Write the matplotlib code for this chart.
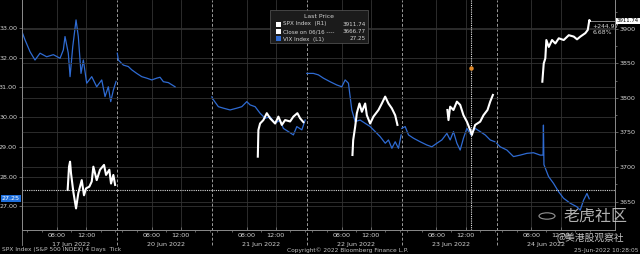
import matplotlib
matplotlib.use('Agg')
import matplotlib.pyplot as plt
import matplotlib.transforms as mtransforms
from matplotlib.patches import Rectangle, Circle
import numpy as np

# trading days shown on the chart, each one is a 03:15-16:15 session
days = ['17 Jun 2022', '20 Jun 2022', '21 Jun 2022', '22 Jun 2022', '23 Jun 2022', '24 Jun 2022']
session_start = 3.25
session_len = 13.0

# VIX Index, clock hours and values per day (left axis)
vix_hours = [
    [3.25, 3.66, 4.35, 5.03, 5.72, 6.63, 7.54, 8.46, 8.91, 9.14, 9.59, 9.83, 10.2, 10.65,
     10.96, 11.33, 11.65, 12.11, 12.8, 13.48, 14.17, 14.62, 15.07, 15.4, 15.76, 16.13],
    [3.3, 3.44, 4.13, 4.81, 5.28, 5.96, 6.65, 7.33, 8.02, 8.7, 9.15, 9.61, 10.29, 11.21],
    [3.25, 3.46, 4.14, 4.83, 5.74, 6.66, 7.35, 8.03, 8.48, 9.17, 9.85, 10.54, 11.22, 11.91,
     12.59, 13.04, 13.73, 14.41, 14.88, 15.57, 16.02],
    [3.25, 4.15, 4.84, 5.52, 6.44, 7.36, 8.04, 8.5, 8.95, 9.18, 9.41, 9.87, 10.55, 11.24,
     11.93, 12.62, 13.3, 13.99, 14.43, 14.9, 15.35, 15.8, 16.17],
    [3.25, 3.72, 4.17, 4.85, 5.77, 6.69, 7.37, 8.06, 8.74, 9.43, 9.88, 10.33, 10.8, 11.25,
     11.7, 12.17, 12.72, 13.3, 13.99, 14.67, 15.36, 16.0],
    [3.25, 3.73, 4.65, 5.55, 6.47, 7.39, 8.29, 9.21, 9.6, 9.65, 9.72, 10.35, 11.03, 11.72,
     12.4, 13.32, 14.24, 14.69, 15.14, 15.61, 15.92],
]
vix_values = [
    [32.87, 32.6, 32.2, 31.92, 32.15, 32.03, 32.1, 31.98, 32.26, 32.71, 32.15, 31.36, 32.37,
     33.27, 32.71, 31.47, 31.92, 31.14, 31.36, 31.02, 31.25, 30.69, 31.02, 30.52, 30.91, 31.2],
    [32.15, 31.92, 31.75, 31.7, 31.59, 31.47, 31.36, 31.31, 31.25, 31.31, 31.34, 31.19, 31.16, 31.02],
    [30.68, 30.58, 30.35, 30.3, 30.24, 30.3, 30.35, 30.52, 30.41, 30.35, 30.13, 29.96, 30.01,
     29.79, 29.9, 29.62, 29.51, 29.4, 29.68, 29.57, 29.9],
    [31.47, 31.47, 31.42, 31.31, 31.19, 31.08, 31.02, 31.25, 31.14, 30.69, 30.24, 29.85, 29.9,
     29.79, 29.68, 29.51, 29.34, 29.12, 29.23, 28.95, 29.17, 28.95, 29.4],
    [29.62, 29.68, 29.4, 29.29, 29.17, 29.06, 29.0, 29.12, 29.23, 29.45, 29.23, 29.51, 29.12,
     28.89, 29.29, 29.62, 29.4, 29.62, 29.51, 29.4, 29.23, 29.17],
    [29.12, 29.0, 28.89, 28.67, 28.72, 28.78, 28.8, 28.72, 28.72, 29.73, 28.4, 28.0, 27.77,
     27.49, 27.27, 27.1, 26.98, 26.87, 27.2, 27.43, 27.25],
]

# SPX Index, regular hours only (right axis), no trading on 20 Jun
spx_hours = [
    [9.5, 9.69, 9.83, 9.96, 10.28, 10.65, 10.96, 11.43, 11.74, 12.02, 12.47, 12.8, 13.02,
     13.48, 13.93, 14.48, 14.76, 15.21, 15.44, 15.76, 16.0],
    [],
    [9.54, 9.62, 9.85, 10.3, 10.77, 11.22, 11.91, 12.36, 12.83, 13.28, 13.96, 14.41, 14.96,
     15.33, 15.78],
    [9.5, 9.6, 9.87, 10.1, 10.46, 10.79, 11.24, 11.47, 11.92, 12.37, 13.06, 13.52, 13.98,
     14.43, 14.89, 15.35, 15.66],
    [9.5, 9.65, 9.88, 10.33, 10.8, 11.25, 11.7, 12.17, 12.62, 12.85, 13.3, 13.99, 14.44,
     14.99, 15.36, 15.73],
    [9.5, 9.69, 9.91, 10.05, 10.38, 10.83, 11.28, 11.75, 12.43, 13.12, 13.8, 14.25, 14.71,
     15.39, 15.72, 15.94, 16.0],
]
spx_values = [
    [3666.7, 3700.5, 3707.7, 3691, 3664, 3640, 3662, 3681, 3659, 3669, 3671.5, 3679, 3700.5,
     3681, 3696, 3703, 3688.5, 3696, 3676, 3688.5, 3674],
    [],
    [3715, 3753.6, 3763, 3768, 3778, 3770.6, 3763, 3773, 3761, 3768, 3766, 3773, 3778,
     3770.6, 3765],
    [3717.4, 3739, 3758.4, 3778, 3792, 3780, 3792, 3775, 3763, 3773, 3782.6, 3792, 3802,
     3792, 3785, 3775, 3761],
    [3782.6, 3768, 3787.4, 3782.6, 3794.7, 3790, 3775, 3765.7, 3753.6, 3746.4, 3761, 3765.7,
     3775, 3782.6, 3794.7, 3804.4],
    [3823.6, 3850, 3857.5, 3884, 3874, 3884, 3879, 3886.5, 3884, 3891, 3889, 3885, 3889,
     3894, 3898.6, 3913, 3911.74],
]

prev_close = 3666.77
spx_last = spx_values[-1][-1]
vix_last = vix_values[-1][-1]
cross_day, cross_hour, cross_spx = 4, 12.75, 3843.5

vix_color = '#2f6bd2'
grid_color = '#333333'
text_color = '#d2d2d2'
FONT = 'DejaVu Sans'


def to_x(day, hours):
    return day * session_len + (np.asarray(hours, dtype=float) - session_start)


fig = plt.figure(figsize=(6.4, 2.54), dpi=100, facecolor='black')
ax = fig.add_axes([22 / 640, 24 / 254, 593 / 640, 230 / 254])
ax.set_facecolor('black')
ax2 = ax.twinx()

for d in range(len(days)):
    if vix_hours[d]:
        ax.plot(to_x(d, vix_hours[d]), vix_values[d], color=vix_color, lw=0.9, zorder=3)
    if spx_hours[d]:
        ax2.plot(to_x(d, spx_hours[d]), spx_values[d], color='white', lw=1.5, zorder=3)

ax.set_xlim(0, 81.2)
ax.set_ylim(26.2, 33.94)
ax2.set_ylim(3608.7, 3942)

# x ticks: 08:00 and 12:00 each day, dates under them
xt, xl = [], []
for d in range(len(days)):
    xt += [to_x(d, 8), to_x(d, 12)]
    xl += ['08:00', '12:00']
ax.set_xticks(xt)
ax.set_xticklabels(xl)
ax.set_xticks([to_x(d, h) for d in range(len(days)) for h in (4, 6, 10, 14, 16)], minor=True)
trans = mtransforms.blended_transform_factory(ax.transData, ax.transAxes)
for d, name in enumerate(days):
    ax.text(float(to_x(d, 10)), -0.052, name, transform=trans, ha='center', va='top',
            color=text_color, fontsize=4.6, family=FONT)

ax.set_yticks([27, 28, 29, 30, 31, 32, 33])
ax.set_yticklabels(['%.2f' % v for v in [27, 28, 29, 30, 31, 32, 33]])
ax2.set_yticks([3650, 3700, 3750, 3800, 3850, 3900])
ax2.set_yticks(np.arange(3625, 3950, 50), minor=True)

for a in (ax, ax2):
    a.tick_params(which='both', colors='#888888', labelcolor=text_color, labelsize=4.6,
                  length=2, width=0.5, pad=1.5)
    a.tick_params(which='minor', length=1.2)
    for lab in a.get_xticklabels() + a.get_yticklabels():
        lab.set_family(FONT)
    for s in a.spines.values():
        s.set_color('#8a8a8a')
        s.set_linewidth(0.6)
ax.tick_params(axis='x', direction='in', pad=2)
ax2.spines['top'].set_visible(False)
ax.spines['top'].set_visible(False)

ax.grid(True, which='major', color=grid_color, lw=0.6)
ax2.grid(True, which='major', axis='y', color=grid_color, lw=0.6)
ax.set_axisbelow(True)

# day separators, dashed, running down into the label band
for d in range(1, len(days)):
    ax.axvline(d * session_len, ymin=-0.065, ymax=1, color='#9a9a9a', lw=0.7,
               ls=(0, (3, 2)), clip_on=False, zorder=2)
ax.axvline(0, ymin=-0.065, ymax=1, color='#8a8a8a', lw=0.6, clip_on=False)

# previous close and crosshair
ax2.axhline(prev_close, color='#d8d8d8', lw=0.8, ls=(0, (1, 1)), zorder=2)
cross_x = float(to_x(cross_day, cross_hour))
ax2.axvline(cross_x, color='#e8e8e8', lw=0.8, ls=(0, (1, 1)), zorder=2)
ax2.plot([cross_x], [cross_spx], 'o', color='#e0892a', ms=2.2, zorder=5)

# last value tags
last_x = float(to_x(len(days) - 1, spx_hours[-1][-1]))
ax2.plot([last_x, 81.6], [spx_last, spx_last], color='#9a9a9a', lw=0.6, clip_on=False)
rtrans = mtransforms.blended_transform_factory(ax2.transAxes, ax2.transData)
ax2.text(1.003, spx_last, '%.2f' % spx_last, transform=rtrans, ha='left', va='center',
         color='black', fontsize=3.9, family=FONT,
         bbox=dict(boxstyle='square,pad=0.12', fc='white', ec='none'))
chg = spx_last - prev_close
ax2.text(0.962, spx_last - 4, '+%.2f\n%.2f%%' % (chg, chg / prev_close * 100), transform=rtrans,
         ha='left', va='top', color=text_color, fontsize=4.4, family=FONT, linespacing=1.3)
ltrans = mtransforms.blended_transform_factory(ax.transAxes, ax.transData)
ax.text(-0.004, vix_last, '%.2f' % vix_last, transform=ltrans, ha='right', va='center',
        color='white', fontsize=4.6, family=FONT,
        bbox=dict(boxstyle='square,pad=0.15', fc='#1f6fdc', ec='none'))

# legend box
fig.patches.append(Rectangle((270 / 640, 1 - 43 / 254), 98 / 640, 33 / 254,
                             transform=fig.transFigure, fc='#1b1b1b', ec='#5a5a5a', lw=0.5))
fig.text(319 / 640, 1 - 16 / 254, 'Last Price', ha='center', va='center', color=text_color,
         fontsize=4.4, family=FONT)
rows = [('white', 'SPX Index  (R1)', '%.2f' % spx_last),
        ('white', 'Close on 06/16 ----', '%.2f' % prev_close),
        (vix_color, 'VIX Index  (L1)', '%.2f' % vix_last)]
for i, (c, name, val) in enumerate(rows):
    yy = 1 - (24 + 7.5 * i) / 254
    fig.patches.append(Rectangle((276 / 640, yy - 2.5 / 254), 5 / 640, 5 / 254,
                                 transform=fig.transFigure, fc=c, ec='none'))
    fig.text(283 / 640, yy, name, ha='left', va='center', color=text_color, fontsize=4.1, family=FONT)
    fig.text(366 / 640, yy, val, ha='right', va='center', color=text_color, fontsize=4.1, family=FONT)

# footer
fig.text(2 / 640, 2 / 254, 'SPX Index (S&P 500 INDEX) 4 Days  Tick', ha='left', va='bottom',
         color='#c0c0c0', fontsize=4.2, family=FONT)
fig.text(348 / 640, 1 / 254, 'Copyright\u00a9 2022 Bloomberg Finance L.P.', ha='center', va='bottom',
         color='#c0c0c0', fontsize=4.2, family=FONT)
fig.text(639 / 640, 1 / 254, '25-Jun-2022 10:28:05', ha='right', va='bottom',
         color='#c0c0c0', fontsize=4.2, family=FONT)

# watermark
fig.patches.append(Circle((547 / 640, 1 - 216 / 254), 0.0125, transform=fig.transFigure,
                          fc='none', ec='#bbbbbb', lw=0.8, alpha=0.8))
fig.text(596 / 640, 1 - 216 / 254, '老虎社区', ha='center', va='center', color='#cfcfcf',
         alpha=0.85, fontsize=11.5, family=['Noto Sans CJK SC', 'DejaVu Sans'])
fig.text(590 / 640, 1 - 238 / 254, '@美港股观察社', ha='center', va='center', color='#d8d8d8',
         alpha=0.9, fontsize=7, family=['Noto Sans CJK SC', 'DejaVu Sans'])

fig.savefig('out.png', dpi=100, facecolor='black')
